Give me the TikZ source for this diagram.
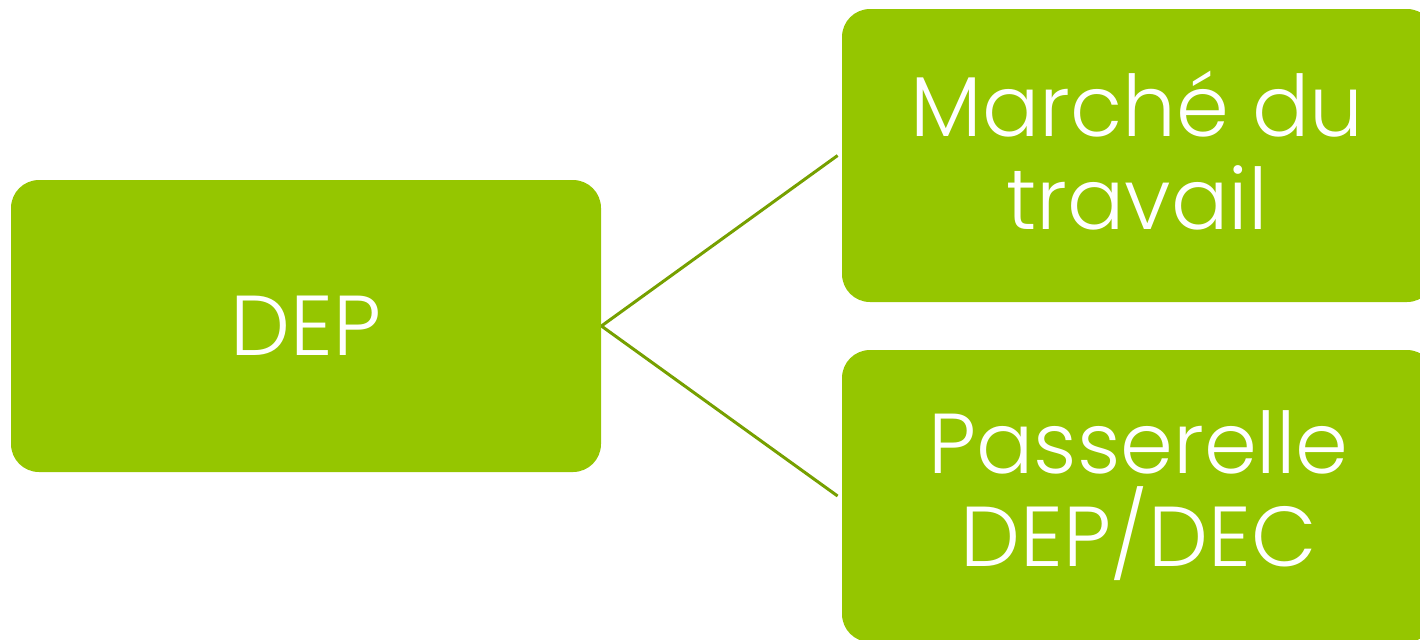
\documentclass[tikz,border=0pt]{standalone}
\usepackage{fontspec}
\setmainfont{Poppins}[UprightFont=* Light]
\usepackage{tikz}
\usetikzlibrary{positioning}
\definecolor{lime1}{HTML}{95C600}
\definecolor{limedark}{HTML}{76A000}

\tikzset{
  block/.style={fill=lime1,rounded corners=14pt,text=white,align=center,
                minimum width=295pt,minimum height=146pt,inner sep=0pt,
                font=\fontsize{42.5}{46.5}\selectfont},
  link/.style={limedark,line width=1.5pt}
}

\begin{document}
\begin{tikzpicture}[x=0.5pt,y=-0.5pt]
  \useasboundingbox (0,0) rectangle (1420,639);
  \clip (0,0) rectangle (1420,639);
  % boxes
  \node[block] (dep) at (306,326) {DEP};
  \node[block,minimum width=296.5pt,minimum height=146.5pt] (marche) at (1138.5,155.5) {};
  \node[text=white,align=center,font=\fontsize{42.5}{46.5}\selectfont] (marchetxt) at (1137,151) {Marché du\\travail};
  \node[block,minimum width=296.5pt] (passerelle) at (1138.5,496) {Passerelle\\DEP/DEC};
  % branches
  \draw[link] (dep.east) -- ([xshift=-2pt]marche.west);
  \draw[link] (dep.east) -- ([xshift=-2pt]passerelle.west);
\end{tikzpicture}
\end{document}
